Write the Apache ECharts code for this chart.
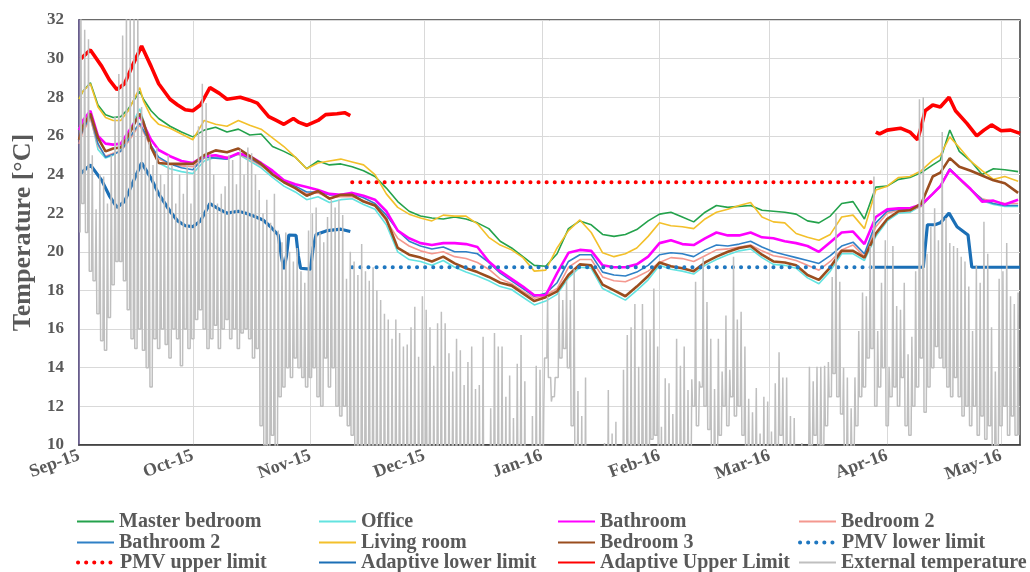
<!DOCTYPE html>
<html>
<head>
<meta charset="utf-8">
<script src="https://cdn.jsdelivr.net/npm/echarts@6/dist/echarts.min.js"></script>
<style>html,body{margin:0;padding:0;background:#fff}#c{width:1030px;height:572px}</style>
</head>
<body>
<div id="c"></div>
<script>
// ---- axis / categories ----
const monthDays = [0, 30, 61, 91, 122, 153, 182, 213, 243];
const monthLabels = ['Sep-15','Oct-15','Nov-15','Dec-15','Jan-16','Feb-16','Mar-16','Apr-16','May-16'];
const yTicks = [10, 12, 14, 16, 18, 20, 22, 24, 26, 28, 30, 32];

// ---- indoor series (days since 1 Sep 2015) ----
const days = [0,1,3,5,7,9,11,13,15,16,17,19,21,24,27,30,
  33,36,39,42,45,48,51,54,57,60,63,66,69,72,75,78,81,84,87,90,93,96,99,102,105,108,111,114,117,120,
  123,126,129,132,135,138,141,144,147,150,153,156,159,162,165,168,171,174,177,180,183,186,189,192,195,198,
  201,204,207,210,213,216,219,222,
  225,227,229.5,232,235,238,241,244,247.5];

const masterBedroom = [27.9,28.3,28.75,27.6,27.1,26.95,27.0,27.4,28.0,28.3,27.9,27.3,26.9,26.5,26.2,25.95,
  26.3,26.45,26.2,26.35,26.05,26.1,25.45,25.2,24.9,24.3, 24.7,24.5,24.55,24.4,24.2,23.9,23.3,22.6,22.1,21.85,
  21.75,21.7,21.8,21.7,21.5,21.2,20.55,20.2,19.75,19.3, 19.25,19.9,21.2,21.6,21.4,20.9,20.8,20.9,21.15,21.6,
  21.95,22.05,21.8,21.55,22.05,22.4,22.3,22.35,22.4,22.15, 22.1,22.05,21.95,21.6,21.5,21.85,22.5,22.6,21.7,23.35,
  23.4,23.75,23.85,24.1,
  24.5,24.75,26.3,25.2,24.7,24.0,24.3,24.25,24.15];
const office = [26.4,26.7,27.0,25.3,24.85,25.0,25.3,26.0,27.0,27.4,26.8,25.5,24.6,24.3,24.15,24.05,
  24.7,24.9,24.8,25.05,24.7,24.35,23.85,23.4,23.1,22.7, 22.85,22.55,22.7,22.75,22.45,22.2,21.4,20.0,19.6,19.5,
  19.3,19.55,19.2,18.95,18.75,18.5,18.2,18.05,17.65,17.25, 17.45,17.8,18.65,19.2,19.15,18.1,17.8,17.5,18.0,18.55,
  19.3,19.1,19.0,18.85,19.3,19.6,19.85,20.05,20.15,19.7, 19.35,19.3,19.15,18.65,18.35,19.0,19.9,19.9,19.55,20.8,
  21.6,22.0,22.05,22.4,
  23.0,23.4,24.3,23.75,23.2,22.65,22.45,22.35,22.35];
const bathroom = [26.3,26.8,27.3,26.0,25.6,25.55,25.6,26.2,26.8,27.05,26.6,25.8,25.27,24.95,24.7,24.6,
  24.95,25.0,24.85,25.1,24.95,24.6,24.2,23.7,23.5,23.35, 23.2,23.0,22.95,23.05,22.9,22.7,22.1,21.1,20.7,20.45,
  20.35,20.45,20.45,20.4,20.25,19.5,19.0,18.6,18.2,17.75, 17.75,18.9,19.95,20.1,20.05,19.3,19.2,19.2,19.35,19.75,
  20.45,20.6,20.4,20.35,20.7,21.0,20.85,20.85,21.0,20.75, 20.7,20.55,20.45,20.3,20.0,20.5,21.0,21.05,20.4,21.8,
  22.2,22.25,22.25,22.45,
  23.0,23.4,24.25,23.8,23.25,22.6,22.65,22.45,22.7];
const bedroom2 = [25.6,26.2,26.9,25.5,24.95,25.1,25.2,25.7,26.3,26.55,26.2,25.4,24.8,24.55,24.45,24.4,
  24.85,25.0,24.9,25.05,24.8,24.45,24.05,23.6,23.3,23.0, 23.05,22.8,22.85,22.85,22.65,22.4,21.6,20.7,20.3,20.05,
  19.9,20.0,19.75,19.65,19.45,19.1,18.6,18.35,17.95,17.6, 17.75,18.1,19.2,19.6,19.6,18.7,18.5,18.45,18.7,19.0,
  19.45,19.7,19.65,19.5,19.8,20.1,20.15,20.25,20.35,20.05, 19.8,19.7,19.55,19.3,19.05,19.5,20.1,20.35,19.75,21.3,
  22.0,22.15,22.15,22.35,
  23.0,23.35,24.3,23.75,23.2,22.75,22.6,22.5,22.5];
const bathroom2 = [25.8,26.3,27.05,25.6,24.9,25.05,25.2,25.8,26.4,26.65,26.3,25.5,24.9,24.55,24.35,24.25,
  24.9,24.85,24.8,25.1,24.85,24.5,24.15,23.7,23.4,23.1, 23.1,22.95,22.95,23.0,22.8,22.5,21.9,21.1,20.55,20.3,
  20.15,20.25,20.0,20.0,19.9,19.45,18.9,18.5,18.1,17.7, 17.85,18.4,19.5,19.85,19.85,18.95,18.8,18.75,18.95,19.3,
  19.85,19.95,19.9,19.75,20.1,20.35,20.3,20.4,20.55,20.25, 20.0,19.85,19.7,19.55,19.4,19.8,20.3,20.5,19.9,21.5,
  22.1,22.2,22.2,22.4,
  23.0,23.4,24.3,23.8,23.25,22.7,22.5,22.4,22.4];
const livingRoom = [27.9,28.3,28.7,27.5,26.95,26.8,26.8,27.3,28.1,28.5,27.8,27.0,26.6,26.4,26.1,25.8,
  26.8,26.6,26.5,26.8,26.55,26.35,25.9,25.45,24.9,24.3, 24.6,24.7,24.8,24.65,24.5,24.0,23.0,22.3,21.95,21.75,
  21.6,21.9,21.85,21.85,21.45,20.75,20.35,20.1,19.7,19.0, 19.05,20.2,21.1,21.65,21.0,19.95,19.75,19.9,20.2,20.8,
  21.5,21.35,21.3,21.2,21.7,22.05,22.2,22.4,22.55,21.8, 21.55,21.5,20.95,20.75,20.6,20.9,21.8,21.9,21.2,23.2,
  23.4,23.85,23.9,24.2,
  24.75,25.0,25.95,25.4,24.7,24.2,23.75,23.9,23.65];
const bedroom3 = [25.8,26.5,27.15,25.9,25.2,25.35,25.4,26.0,26.8,27.15,26.7,25.4,24.6,24.55,24.55,24.55,
  25.0,25.25,25.15,25.35,24.95,24.55,24.0,23.6,23.3,22.9, 23.15,22.75,22.95,22.95,22.6,22.4,21.7,20.2,19.85,19.7,
  19.5,19.75,19.4,19.15,18.95,18.7,18.4,18.25,17.85,17.45, 17.65,17.95,18.8,19.35,19.3,18.3,18.0,17.7,18.2,18.75,
  19.45,19.25,19.15,19.0,19.45,19.75,20.0,20.2,20.3,19.85, 19.5,19.45,19.3,18.8,18.55,19.2,20.05,20.05,19.7,20.95,
  21.7,22.1,22.15,22.5,
  23.9,24.1,24.85,24.4,24.2,23.95,23.7,23.55,23.05];

// ---- comfort limits ----
const pmvDays = [72, 209.5];
const pmvUpper = [23.6, 23.6];
const pmvLower = [19.2, 19.2];

const adLowDays1 = [0.5,3,6,8,10,12,14,16.5,19,21,24,26,28,30,32,34.5,37,39,42,44,46,48.5,50.5,52.5,53.3,54,54.7,55.3,57.2,57.8,58.4,61,61.7,62.5,65.5,69,71.5];
const adLowVals1 = [24.07,24.5,23.7,22.9,22.3,22.6,23.5,24.6,23.8,23.0,22.1,21.6,21.35,21.3,21.6,22.5,22.2,22.0,22.1,22.0,21.85,21.65,21.3,20.87,19.8,19.1,19.8,20.87,20.85,19.8,19.15,19.1,20.2,20.9,21.1,21.17,21.05];
const adLowDays2 = [209.5,222.5,223.6,225.6,227,229.3,231.4,234.3,235.3,248];
const adLowVals2 = [19.2,19.2,21.4,21.4,21.5,22.0,21.3,20.87,19.2,19.2];

const adUpDays1 = [0.5,3,6,8,10,12,14,16.5,19,21,24,26,28,30,32,34.5,37,39,42.5,45,47,50,52,54,56.5,58,60,63,65,68,70,71.5];
const adUpVals1 = [30.0,30.45,29.6,28.9,28.4,28.7,29.6,30.65,29.6,28.7,27.9,27.6,27.35,27.3,27.6,28.5,28.2,27.9,28.0,27.85,27.7,27.0,26.8,26.6,26.9,26.7,26.55,26.8,27.1,27.15,27.2,27.05];
const adUpDays2 = [210,211,213,216.5,219,221,222,223,225,227,229.3,231,234,236.6,238.5,240.5,243,245.5,248];
const adUpVals2 = [26.2,26.1,26.3,26.4,26.2,25.8,26.5,27.3,27.6,27.5,28.0,27.3,26.65,26.0,26.3,26.57,26.27,26.3,26.13];

// ---- external temperature: daily minimum and maximum (day 0 = 1 Sep 2015) ----
const extMax = [
  33,31.5,31,25,22.2,24,23.9,22.5,25,27,29.2,31.2,33,33,33,33,27.5,26,25.7,24.5,25.4,24,23.5,25,24.5,22.5,24,23,24.5,22.5,
  24.5,26.5,28.7,27.7,25,24,22.5,23,23.4,25,24.75,23.5,25.3,24,25.4,25.1,24,23.2,22,22.7,21.5,23,21.1,20.5,21,20,19.5,20.2,19,18.4,21.1,
  22,22.3,21,20.5,21.8,22.7,22.3,22.7,21.9,18.6,20,19.5,18.8,20.4,19,18.5,19.2,18,17.5,16.8,16.5,15.5,16.5,15.8,15.1,15.2,16.1,17.16,14.57,17.7,
  17.0,16.1,14.1,16.3,16.9,16.3,14.75,13.8,15.5,14.9,13.1,14.3,15.1,12.9,13.1,15.6,9.5,11.9,15.8,15.1,15.1,12.5,13.6,11.4,14.2,15.7,13.3,9.5,11.5,14.1,13.9,
  12.0,17.7,12.25,13.5,17.9,17.5,18.5,17.5,19.1,12.8,11.5,13.5,8,7,6,8,10.1,12.85,10.6,11.2,9,13.9,15.7,16.1,17.3,14.05,17.3,15.95,15.95,18.1,15.1,
  10.95,13.45,13.2,11.6,15.5,14.1,15.1,12.85,13.4,18.45,13.3,19.7,17.4,15.5,12.9,15.5,13.8,16.7,13.9,19.75,16.5,16.9,15.1,12.4,11.7,12.95,10.6,12.5,12.25,
  10.7,13.2,14.8,13.5,13.5,11.5,11.4,9.5,10.1,9.5,14.05,13.3,14.05,14.05,14.1,14.3,18.7,22.0,18.45,14.0,13.5,11.9,13.5,15.9,17.9,17.7,20.3,23.9,15.9,18.4,20.6,
  14.05,20.3,17.2,17.0,18.4,14.7,15.6,19.0,27.9,28.0,19.9,21.3,22.25,20.6,26.2,21.75,20.45,20.3,20.2,19.75,19.5,18.2,15.9,19.3,18.4,21.55,19.9,16.1,13.8,18.6,
  19.0,20.45,17.7,17.3,17.9];
const extMin = [
  21,22.5,21,19,18.5,16.8,15.4,14.9,16.6,18.3,19.5,19.5,18.5,17,15.5,15,16,14.9,14,13,15.5,15,16,15.2,14.5,16,15.5,14.1,16,15,
  15.5,16.5,17,16,15,15.5,16.2,15,16,16.5,15.5,16,15,15.8,16,15.5,14.5,15,11,10,9.5,10.5,9.5,12.5,13,14,13.5,14.5,14,13.5,13,
  13.5,14,12.5,12,14.5,13,14,12,11.5,12,11,10.5,9,8,9,8,8,7,8.5,7,8,6,7,8,6,7,8,7,6,8,
  7,9,6,7,8,6,5,7,8,6,5,7,8,6,5,7,5,6,8,7,8,6,5,6,7,8,6,4,5,6,7,
  8,14.5,13.5,12.5,13.5,14.5,15,14,11,8,6,5,3,2,3,4,5,6,4,5,3,6,8,7,8,6,8,9,8,10.3,10.5,
  7,6,7,5,8,7,9,7,8,12,11,13,12,10.8,8,9,10.5,12,11,12.5,11.5,12,10.5,9,8,9,7,8,7,
  6,8,9,10.5,9,8,7,6,7,6,9,10,10.5,9.5,10,11,12.5,13.7,12.5,11.6,9,8,9.5,11,12.5,13,14.5,15,12,13,14,
  11,12.5,13,12,13.5,11,10.5,12,13,14.5,11.7,13,14,15.1,14.5,14,13,12.5,13.5,12.5,11.5,12,11,12,10.5,11.5,10.3,11,9,10,
  11,12,10.5,11.5,10.5];

// ---- build ----
const pair = (xs, ys) => xs.map((x, i) => [x, ys[i]]);
const ext = [];
extMin.forEach((v, d) => {
  const next = d + 1 < extMin.length ? extMin[d + 1] : v;
  ext.push([d + 0.3, v], [d + 0.5, extMax[d]], [d + 0.7, next]);
});

const FONT = 'Liberation Serif';
const TXT = '#595959';
const dots = [0.1, 8];

function line(name, data, color, width, extra) {
  return Object.assign({
    name, type: 'line', data, symbol: 'none', showSymbol: false, silent: true,
    lineStyle: { color, width }, itemStyle: { color }, clip: true
  }, extra || {});
}

const series = [
  line('Master bedroom', pair(days, masterBedroom), '#24a24c', 1.6),
  line('Office', pair(days, office), '#63e3e0', 1.6),
  line('Bedroom 2', pair(days, bedroom2), '#f4988f', 1.6),
  line('Bathroom 2', pair(days, bathroom2), '#2f80c6', 1.6),
  line('Living room', pair(days, livingRoom), '#f3c02b', 1.6),
  line('Bathroom', pair(days, bathroom), '#ff00ff', 2.6),
  line('Bedroom 3', pair(days, bedroom3), '#9a4d1e', 2.6),
  line('PMV lower limit', pair(pmvDays, pmvLower), '#1f77c0', 4, { lineStyle: { color: '#1f77c0', width: 4, type: dots, cap: 'round' } }),
  line('PMV upper limit', pair(pmvDays, pmvUpper), '#ff0000', 4, { lineStyle: { color: '#ff0000', width: 4, type: dots, cap: 'round' } }),
  line('Adaptive lower limit', pair(adLowDays1, adLowVals1).concat([[140, null]], pair(adLowDays2, adLowVals2)), '#1b6fb6', 3.2),
  line('Adaptive Upper Limit', pair(adUpDays1, adUpVals1).concat([[140, null]], pair(adUpDays2, adUpVals2)), '#ff0000', 3.6),
  line('External temperature', ext, '#bfbfbf', 1.5, { z: 5 })
];

const legendCols = [
  [76, ['Master bedroom', 'Bathroom 2', 'PMV upper limit']],
  [318, ['Office', 'Living room', 'Adaptive lower limit']],
  [557, ['Bathroom', 'Bedroom 3', 'Adaptive Upper Limit']],
  [798, ['Bedroom 2', 'PMV lower limit', 'External temperature']]
];
const dottedNames = ['PMV upper limit', 'PMV lower limit'];
const legendRowTops = [511, 532, 552];
const legends = [];
legendCols.forEach(([left, names]) => names.forEach((n, r) => legends.push({
  left, top: legendRowTops[r], orient: 'horizontal', data: [n],
  itemWidth: 37, itemHeight: 14, itemGap: 0, padding: 0, selectedMode: false,
  itemStyle: { opacity: 0 },
  lineStyle: dottedNames.includes(n) ? { width: 4 } : {},
  textStyle: { fontFamily: FONT, fontWeight: 'bold', fontSize: 20, color: TXT, lineHeight: 21, padding: [0, 0, 0, 0] }
})));

const chart = echarts.init(document.getElementById('c'), null, { renderer: 'canvas' });
chart.setOption({
  animation: false,
  backgroundColor: '#fff',
  grid: { left: 79, right: 10, top: 20, bottom: 127, show: true, borderColor: '#3a3a3a', borderWidth: 1.5, backgroundColor: 'transparent' },
  legend: legends,
  xAxis: {
    type: 'value', min: 0, max: 248,
    axisLine: { show: true, lineStyle: { color: '#3a3a3a', width: 1.5 } },
    axisTick: { show: false, customValues: monthDays },
    splitLine: { show: true, lineStyle: { color: '#d9d9d9', width: 1 } },
    axisLabel: {
      customValues: monthDays, rotate: 20, margin: 10,
      formatter: v => monthLabels[monthDays.indexOf(v)],
      fontFamily: FONT, fontWeight: 'bold', fontSize: 18, color: TXT
    }
  },
  yAxis: {
    type: 'value', min: yTicks[0], max: yTicks[yTicks.length - 1], interval: 2,
    name: 'Temperature [°C]', nameLocation: 'middle', nameGap: 32,
    nameTextStyle: { fontFamily: FONT, fontWeight: 'bold', fontSize: 26, color: TXT },
    axisLine: { show: true, lineStyle: { color: '#675a94', width: 1.5 } },
    axisTick: { show: false },
    splitLine: { show: true, lineStyle: { color: '#d9d9d9', width: 1 } },
    axisLabel: { margin: 15, fontFamily: FONT, fontWeight: 'bold', fontSize: 17, color: TXT }
  },
  series
});
</script>
</body>
</html>
